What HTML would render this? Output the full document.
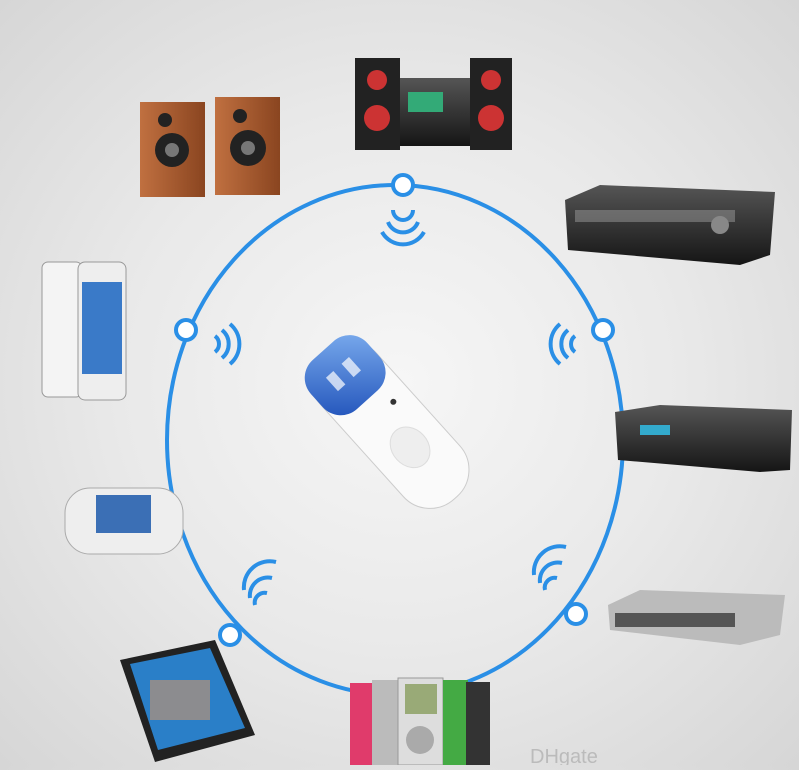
<!DOCTYPE html>
<html><head><meta charset="utf-8"><style>
html,body{margin:0;padding:0;}
body{width:799px;height:765px;overflow:hidden;background:radial-gradient(ellipse at 50% 50%,#f6f6f6 0%,#e9e9e9 50%,#d6d6d6 100%);font-family:"Liberation Sans",sans-serif;}
</style></head><body>
<svg width="799" height="765" viewBox="0 0 799 765" xmlns="http://www.w3.org/2000/svg">
<defs>
<linearGradient id="blue" x1="0" y1="0" x2="1" y2="1"><stop offset="0" stop-color="#7fb0f0"/><stop offset="1" stop-color="#1d4fb8"/></linearGradient>
<linearGradient id="wood" x1="0" y1="0" x2="1" y2="0"><stop offset="0" stop-color="#c07040"/><stop offset="1" stop-color="#8a4520"/></linearGradient>
<linearGradient id="dark" x1="0" y1="0" x2="0" y2="1"><stop offset="0" stop-color="#555"/><stop offset="1" stop-color="#151515"/></linearGradient>
</defs>
<!-- ring -->
<ellipse cx="395" cy="440" rx="228" ry="255" fill="none" stroke="#2a8fe6" stroke-width="4"/>
<g fill="#fff" stroke="#2a8fe6" stroke-width="4">
<circle cx="403" cy="185" r="10"/><circle cx="603" cy="330" r="10"/><circle cx="186" cy="330" r="10"/>
<circle cx="230" cy="635" r="10"/><circle cx="576" cy="614" r="10"/>
</g>
<!-- wifi marks -->
<g fill="none" stroke="#2a8fe6" stroke-width="4">
<path d="M393 210 a10 10 0 0 0 20 0"/><path d="M388 222 a16 16 0 0 0 30 0" /><path d="M382 232 a24 24 0 0 0 42 0"/>
<path d="M215 336 a10 10 0 0 1 0 16"/><path d="M222 330 a18 18 0 0 1 0 28"/><path d="M230 324 a26 26 0 0 1 0 40"/>
<path d="M575 336 a10 10 0 0 0 0 16"/><path d="M568 330 a18 18 0 0 0 0 28"/><path d="M560 324 a26 26 0 0 0 0 40"/>
<path d="M255 605 a10 10 0 0 1 12 -12"/><path d="M250 598 a18 18 0 0 1 22 -20"/><path d="M244 590 a26 26 0 0 1 32 -28"/>
<path d="M545 590 a10 10 0 0 1 12 -12"/><path d="M540 583 a18 18 0 0 1 22 -20"/><path d="M534 575 a26 26 0 0 1 32 -28"/>
</g>
<!-- speakers -->
<rect x="140" y="102" width="65" height="95" fill="url(#wood)"/>
<circle cx="172" cy="150" r="17" fill="#222"/><circle cx="172" cy="150" r="7" fill="#777"/><circle cx="165" cy="120" r="7" fill="#222"/>
<rect x="215" y="97" width="65" height="98" fill="url(#wood)"/>
<circle cx="248" cy="148" r="18" fill="#222"/><circle cx="248" cy="148" r="7" fill="#777"/><circle cx="240" cy="116" r="7" fill="#222"/>
<!-- stereo -->
<rect x="355" y="58" width="45" height="92" fill="#222"/><rect x="470" y="58" width="42" height="92" fill="#222"/>
<circle cx="377" cy="80" r="10" fill="#c33"/><circle cx="377" cy="118" r="13" fill="#c33"/>
<circle cx="491" cy="80" r="10" fill="#c33"/><circle cx="491" cy="118" r="13" fill="#c33"/>
<rect x="400" y="78" width="70" height="68" fill="url(#dark)"/><rect x="408" y="92" width="35" height="20" fill="#3a7"/>
<!-- amplifier -->
<polygon points="565,200 600,185 775,192 770,255 740,265 568,250" fill="url(#dark)"/>
<rect x="575" y="210" width="160" height="12" fill="#999" opacity=".5"/><circle cx="720" cy="225" r="9" fill="#888"/>
<!-- phones -->
<rect x="42" y="262" width="40" height="135" rx="6" fill="#f4f4f4" stroke="#999"/>
<rect x="78" y="262" width="48" height="138" rx="7" fill="#eee" stroke="#999"/><rect x="82" y="282" width="40" height="92" fill="#3a7ac8"/>
<!-- receiver -->
<polygon points="615,412 660,405 792,410 790,470 760,472 618,460" fill="url(#dark)"/>
<rect x="640" y="425" width="30" height="10" fill="#3ac"/>
<!-- psp -->
<rect x="65" y="488" width="118" height="66" rx="25" fill="#eee" stroke="#aaa"/>
<rect x="96" y="495" width="55" height="38" fill="#3b6fb5"/>
<!-- dvd -->
<polygon points="608,605 640,590 785,595 780,635 740,645 610,630" fill="#bbb"/>
<rect x="615" y="613" width="120" height="14" fill="#555"/>
<!-- laptop -->
<polygon points="120,660 215,640 255,735 155,762" fill="#222"/>
<polygon points="130,664 210,648 245,728 158,750" fill="#2a7fc8"/>
<rect x="150" y="680" width="60" height="40" fill="#e95" opacity=".5"/>
<!-- ipods -->
<rect x="350" y="683" width="25" height="82" fill="#e03b6b"/><rect x="372" y="680" width="28" height="85" fill="#bbb"/>
<rect x="398" y="678" width="45" height="87" fill="#ddd" stroke="#999"/><rect x="405" y="684" width="32" height="30" fill="#9a7"/>
<circle cx="420" cy="740" r="14" fill="#aaa"/><rect x="443" y="680" width="25" height="85" fill="#4a4"/><rect x="466" y="682" width="24" height="83" fill="#333"/>
<!-- dongle -->
<g transform="translate(390,425) rotate(48)">
<rect x="-98" y="-38" width="196" height="76" rx="36" fill="#fafafa" stroke="#ccc"/>
<rect x="-100" y="-38" width="66" height="76" rx="24" fill="url(#blue)"/>
<rect x="-78" y="-15" width="18" height="10" fill="#fff" opacity=".7"/><rect x="-78" y="6" width="18" height="10" fill="#fff" opacity=".7"/>
<ellipse cx="30" cy="0" rx="22" ry="18" fill="#eee" stroke="#ddd"/>
<circle cx="-15" cy="-18" r="3" fill="#333"/>
</g>
<text x="530" y="763" font-size="20" fill="#bbb">DHgate</text>
</svg>
</body></html>
